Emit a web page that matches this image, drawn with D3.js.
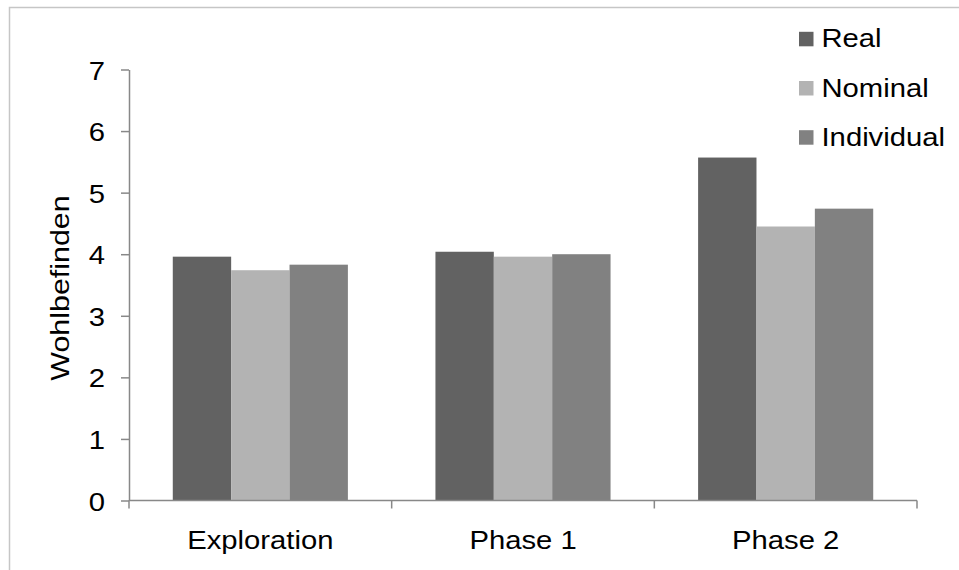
<!DOCTYPE html>
<html>
<head>
<meta charset="utf-8">
<script src="https://cdn.jsdelivr.net/npm/d3@7"></script>
<style>
  html, body { margin: 0; padding: 0; background: #fff; }
  svg { display: block; }
  text { font-family: "Liberation Sans", Arial, Helvetica, sans-serif; fill: #000; }
</style>
</head>
<body>
<script>
// ---- data ----
const categories = ["Exploration", "Phase 1", "Phase 2"];
const seriesNames = ["Real", "Nominal", "Individual"];
const realValues = [3.96, 4.04, 5.57];
const nominalValues = [3.74, 3.96, 4.45];
const individualValues = [3.83, 4.00, 4.74];
const yTicks = [0, 1, 2, 3, 4, 5, 6, 7];
const yLabel = "Wohlbefinden";
const seriesColors = ["#626262", "#b3b3b3", "#818181"];

const seriesValues = [realValues, nominalValues, individualValues];

const W = 959, H = 570;
const svg = d3.select("body").append("svg").attr("width", W).attr("height", H);

// outer chart border (cropped at right/bottom)
svg.append("rect")
  .attr("x", 9.5).attr("y", 7.5).attr("width", 1200).attr("height", 1200)
  .attr("fill", "none").attr("stroke", "#c6c6c6").attr("stroke-width", 1.5);

const x0 = d3.scaleBand().domain(categories).range([129, 917]).paddingInner(0).paddingOuter(0);
const bw = x0.bandwidth();
const unit = bw / 4.5; // 150% gap width
const x1 = d3.scaleBand().domain(seriesNames).range([0.75 * unit, 3.75 * unit]).padding(0);
const y = d3.scaleLinear().domain([0, 7]).range([500.5, 69.5]);
const color = d3.scaleOrdinal().domain(seriesNames).range(seriesColors);

const SX = 1.17; // horizontal text stretch
const FS = 25;

// bars
const rows = categories.map((c, i) => ({ cat: c, vals: seriesNames.map((s, j) => ({ s, v: seriesValues[j][i] })) }));
const g = svg.append("g");
g.selectAll("g.cat").data(rows).join("g")
  .attr("class", "cat")
  .attr("transform", d => `translate(${x0(d.cat)},0)`)
  .selectAll("rect").data(d => d.vals).join("rect")
  .attr("x", d => x1(d.s))
  .attr("width", x1.bandwidth())
  .attr("y", d => y(d.v))
  .attr("height", d => y(0) - y(d.v))
  .attr("fill", d => color(d.s));

// y axis
const yAxis = svg.append("g").attr("transform", "translate(129,0)")
  .call(d3.axisLeft(y).tickValues(yTicks).tickSize(8).tickSizeOuter(0).tickFormat(d3.format("d")));
yAxis.select(".domain").attr("stroke", "#888").attr("stroke-width", 1.5);
yAxis.selectAll(".tick line").attr("stroke", "#888").attr("stroke-width", 1.5);
yAxis.selectAll(".tick text").remove();
yAxis.selectAll(".tick").append("g")
  .attr("transform", "translate(-24,9.5)")
  .append("text")
  .attr("transform", `scale(${SX},1)`)
  .attr("text-anchor", "end")
  .style("font-size", FS + "px")
  .text(d => d);

// x axis
const xAxisG = svg.append("g").attr("transform", `translate(0,${y(0)})`);
xAxisG.append("line").attr("x1", 129).attr("x2", 917).attr("y1", 0).attr("y2", 0)
  .attr("stroke", "#888").attr("stroke-width", 1.5);
const bounds = categories.map(c => x0(c)).concat([x0(categories[categories.length - 1]) + bw]);
xAxisG.selectAll("line.tk").data(bounds).join("line").attr("class", "tk")
  .attr("x1", d => d).attr("x2", d => d).attr("y1", 0).attr("y2", 8)
  .attr("stroke", "#888").attr("stroke-width", 1.5);
xAxisG.selectAll("g.xl").data(categories).join("g").attr("class", "xl")
  .attr("transform", d => `translate(${x0(d) + bw / 2},48.5)`)
  .append("text")
  .attr("transform", `scale(${SX},1)`)
  .attr("text-anchor", "middle")
  .style("font-size", FS + "px")
  .text(d => d);

// y label
svg.append("g").attr("transform", "translate(69,288) rotate(-90)")
  .append("text")
  .attr("transform", `scale(${SX},1)`)
  .attr("text-anchor", "middle")
  .style("font-size", "26px")
  .text(yLabel);

// legend
const legend = svg.append("g").attr("transform", "translate(799,0)");
const lg = legend.selectAll("g").data(seriesNames).join("g")
  .attr("transform", (d, i) => `translate(0,${47.3 + i * 49.2})`);
lg.append("rect").attr("x", 0).attr("y", -15.5).attr("width", 14.5).attr("height", 14.5)
  .attr("fill", d => color(d));
lg.append("g").attr("transform", "translate(22.5,0)").append("text")
  .attr("transform", `scale(${SX},1)`)
  .style("font-size", FS + "px")
  .text(d => d);
</script>
</body>
</html>
